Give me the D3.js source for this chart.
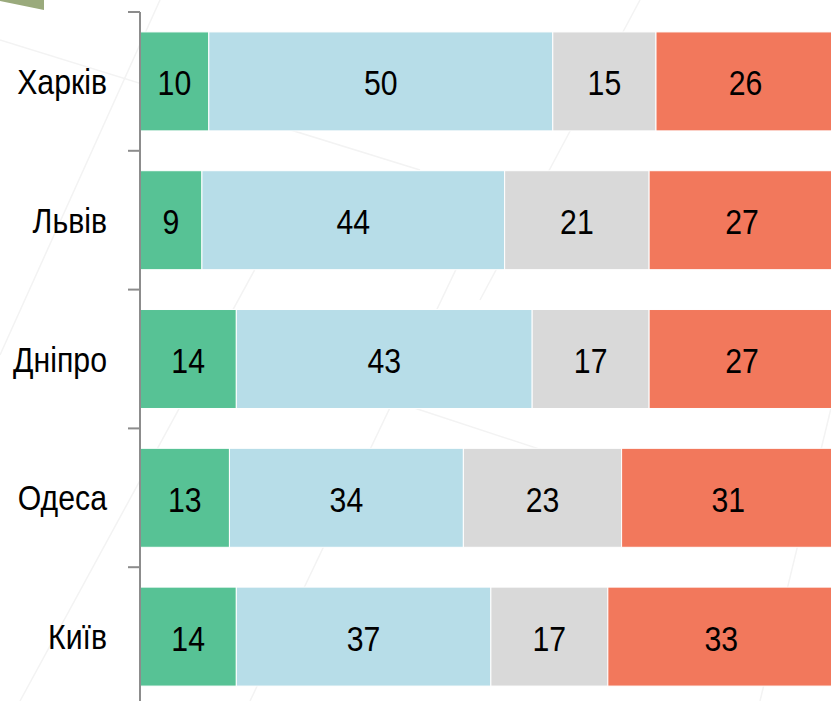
<!DOCTYPE html>
<html>
<head>
<meta charset="utf-8">
<script src="https://cdn.jsdelivr.net/npm/d3@7"></script>
<style>
  body { margin: 0; background: #fff; }
  svg { display: block; }
  .lbl { font-family: "Liberation Sans", Arial, sans-serif; }
</style>
</head>
<body>
<div id="chart"></div>
<script>
// cities top to bottom
let cities = ["Харків", "Львів", "Дніпро", "Одеса", "Київ"];
let seriesKeys = ["s1", "s2", "s3", "s4"];
let s1 = [10, 9, 14, 13, 14];
let s2 = [50, 44, 43, 34, 37];
let s3 = [15, 21, 17, 23, 17];
let s4 = [26, 27, 27, 31, 33];
let colors = ["#57c295", "#b7dde8", "#d9d9d9", "#f2785c"];

function makeChart() {
    let svgWidth = 831;
    let svgHeight = 701;
    let narrow = 0.84; // squeeze text like a narrow face

    let svg = d3.select("#chart")
        .append("svg")
        .attr("width", svgWidth)
        .attr("height", svgHeight);

    // faint background strokes
    let bg = svg.append("g").attr("stroke", "#f3f3f3").attr("stroke-width", 1.5).attr("fill", "none");
    [[0, 355, 160, 0], [0, 40, 420, 170], [250, 701, 470, 240], [640, 0, 480, 300],
     [930, 0, 760, 701], [390, 400, 831, 545], [20, 701, 260, 260]].forEach(l => {
        bg.append("line").attr("x1", l[0]).attr("y1", l[1]).attr("x2", l[2]).attr("y2", l[3]);
    });
    svg.append("polygon")
        .attr("points", "0,0 44,0 44,10 0,1")
        .attr("fill", "#9aaa7c");

    let data = cities.map((c, i) => ({city: c, s1: s1[i], s2: s2[i], s3: s3[i], s4: s4[i]}));
    let stacked = d3.stack().keys(seriesKeys)(data);

    let x = d3.scaleLinear().domain([0, 100]).range([140, 828]);
    let y = d3.scaleBand().domain(cities).range([12, 706])
        .paddingInner(0.287).paddingOuter(0.1435);

    let layers = svg.selectAll("g.layer")
        .data(stacked)
        .enter()
        .append("g")
        .attr("class", "layer")
        .attr("fill", (d, i) => colors[i]);

    layers.selectAll("rect")
        .data(d => d)
        .enter()
        .append("rect")
        .attr("x", d => x(d[0]))
        .attr("y", d => y(d.data.city))
        .attr("width", d => x(d[1]) - x(d[0]))
        .attr("height", y.bandwidth())
        .attr("stroke", "#ffffff")
        .attr("stroke-width", 1);

    layers.selectAll("text")
        .data(d => d.map(v => ({v: v, key: d.key})))
        .enter()
        .append("text")
        .attr("class", "lbl")
        .attr("transform", d => `translate(${(x(d.v[0]) + x(d.v[1])) / 2},${y(d.v.data.city) + y.bandwidth() / 2 + 1}) scale(${narrow},1)`)
        .attr("dy", "0.36em")
        .attr("text-anchor", "middle")
        .attr("font-size", "36px")
        .attr("fill", "#000")
        .text(d => d.v.data[d.key]);

    // y axis: labels from the axis, ticks at band edges
    let yAxis = svg.append("g")
        .attr("transform", "translate(140,0)")
        .call(d3.axisLeft(y).tickSize(0).tickPadding(33));
    yAxis.select(".domain").remove();
    yAxis.selectAll("text")
        .attr("class", "lbl")
        .attr("x", 0)
        .attr("transform", `translate(-33,1) scale(${narrow},1)`)
        .attr("font-size", "36px")
        .attr("fill", "#000");

    svg.append("line")
        .attr("x1", 140).attr("x2", 140)
        .attr("y1", 12).attr("y2", svgHeight)
        .attr("stroke", "#8c8c8c").attr("stroke-width", 2);

    let edges = d3.range(cities.length + 1).map(i => 12 + i * y.step());
    svg.selectAll("line.tick-edge")
        .data(edges)
        .enter()
        .append("line")
        .attr("class", "tick-edge")
        .attr("x1", 128).attr("x2", 140)
        .attr("y1", d => d).attr("y2", d => d)
        .attr("stroke", "#8c8c8c").attr("stroke-width", 2);
}

makeChart();
</script>
</body>
</html>
